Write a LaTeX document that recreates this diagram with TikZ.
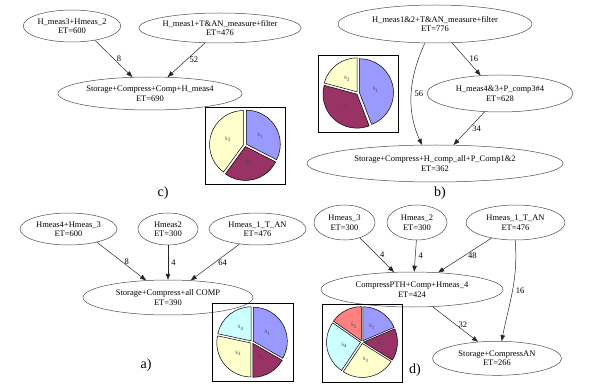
\documentclass[tikz,border=0pt]{standalone}
\usepackage{fontspec}
\setmainfont{Liberation Serif}
\usetikzlibrary{arrows.meta, shapes.geometric}
\definecolor{s_blue}{HTML}{9999FF}
\definecolor{s_maroon}{HTML}{993366}
\definecolor{s_yellow}{HTML}{FFFFCC}
\definecolor{s_cyan}{HTML}{CCFFFF}
\definecolor{s_red}{HTML}{FF8080}
\tikzset{
  ell_n/.style = {ellipse, draw=black!70, line width=0.5pt, inner sep=0pt,
    align=center, font=\fontsize{8.5}{9.5}\selectfont},
  conn/.style = {-{Triangle[length=6pt,width=4.5pt]}, draw=black!85,
    line width=0.5pt},
  wt/.style = {midway, right=3pt, inner sep=0pt, font=\fontsize{8.5}{9.5}\selectfont},
  pie_box/.style = {draw=black, line width=0.8pt},
  sl/.style = {draw=black, line width=0.5pt},
  sl_lab/.style = {inner sep=0pt, text=black!75, font=\fontsize{5}{5}\selectfont},
  panel/.style = {inner sep=0pt, font=\fontsize{14}{14}\selectfont}}
% one exploded slice: centre, pie name, from, to, colour, index
\newcommand{\pieslice}[6]{%
  \begin{scope}[shift={(#1)}, yscale=-1]
    \pgfmathsetmacro\slicemid{(#3+#4)/2}
    \draw[sl, fill=#5, shift={(\slicemid:1.5)}] (0,0) -- (#3:34)
      arc[start angle=#3, end angle=#4, radius=34] -- cycle;
    \node[sl_lab] (#2#6) at (\slicemid:18) {S\textsubscript{#6}};
  \end{scope}}

\begin{document}
\begin{tikzpicture}[x=1pt, y=-1pt]
\useasboundingbox (0,0) rectangle (594,390);

% c)
\node[ell_n, minimum width=88pt, minimum height=32pt] (c_a) at (72,26) {H\_meas3+Hmeas\_2\\ET=600};
\node[ell_n, minimum width=160pt, minimum height=30pt] (c_b) at (220,28) {H\_meas1+T\&AN\_measure+filter\\ET=476};
\node[ell_n, minimum width=184pt, minimum height=33pt] (c_s) at (150,93.5) {Storage+Compress+Comp+H\_meas4\\ET=690};
\draw[conn] (c_a.-32) -- (c_s.137) node[wt] (c_w1) {8};
\draw[conn] (c_b.-135) -- (c_s.43) node[wt] (c_w2) {52};
\draw[pie_box] (205,107) rectangle (285,184);
\pieslice{245,145}{c}{90}{-27}{s_blue}{1}
\pieslice{245,145}{c}{-27}{-126}{s_maroon}{2}
\pieslice{245,145}{c}{-126}{-270}{s_yellow}{3}
\node[panel] (c_lab) at (163,193) {c)};

% b)
\node[ell_n, minimum width=194pt, minimum height=38pt] (b_t) at (435,24) {H\_meas1\&2+T\&AN\_measure+filter\\ET=776};
\node[ell_n, minimum width=146pt, minimum height=37pt] (b_m) at (500,93.5) {H\_meas4\&3+P\_comp3\#4\\ET=628};
\node[ell_n, minimum width=256pt, minimum height=37pt] (b_s) at (435,163.5) {Storage+Compress+H\_comp\_all+P\_Comp1\&2\\ET=362};
\draw[conn] (b_t.-48) -- (b_m.137) node[wt] (b_w1) {16};
\draw[conn] (b_t.-118) .. controls +(-16,35) and +(-16,-35) .. (b_s.125) node[wt] (b_w2) {56};
\draw[conn] (b_m.-130) -- (b_s.45) node[wt] (b_w3) {34};
\draw[pie_box] (318,55) rectangle (398,132);
\pieslice{358,93}{b}{90}{-69}{s_blue}{1}
\pieslice{358,93}{b}{-69}{-195}{s_maroon}{2}
\pieslice{358,93}{b}{-195}{-270}{s_yellow}{3}
\node[panel] (b_lab) at (440,193) {b)};

% a)
\node[ell_n, minimum width=97pt, minimum height=32pt] (a_1) at (68.5,229) {Hmeas4+Hmeas\_3\\ET=600};
\node[ell_n, minimum width=60pt, minimum height=32pt] (a_2) at (168,229) {Hmeas2\\ET=300};
\node[ell_n, minimum width=97pt, minimum height=32pt] (a_3) at (257.5,229) {Hmeas\_1\_T\_AN\\ET=476};
\node[ell_n, minimum width=170pt, minimum height=35pt] (a_s) at (168,297.5) {Storage+Compress+all COMP\\ET=390};
\draw[conn] (a_1.-25) -- (a_s.142) node[wt] (a_w1) {8};
\draw[conn] (a_2.-90) -- (a_s.90) node[wt] (a_w2) {4};
\draw[conn] (a_3.-140) -- (a_s.37) node[wt] (a_w3) {64};
\draw[pie_box] (212,303) rectangle (293,381);
\pieslice{252,342}{a}{90}{-30}{s_blue}{1}
\pieslice{252,342}{a}{-30}{-90}{s_maroon}{2}
\pieslice{252,342}{a}{-90}{-192}{s_yellow}{3}
\pieslice{252,342}{a}{-192}{-270}{s_cyan}{4}
\node[panel] (a_lab) at (146,365) {a)};

% d)
\node[ell_n, minimum width=61pt, minimum height=35pt] (d_1) at (344.5,222.5) {Hmeas\_3\\ET=300};
\node[ell_n, minimum width=60pt, minimum height=35pt] (d_2) at (417,222.5) {Hmeas\_2\\ET=300};
\node[ell_n, minimum width=99pt, minimum height=35pt] (d_3) at (515.5,222.5) {Hmeas\_1\_T\_AN\\ET=476};
\node[ell_n, minimum width=182pt, minimum height=35pt] (d_m) at (412,289.5) {CompressPTH+Comp+Hmeas\_4\\ET=424};
\node[ell_n, minimum width=129pt, minimum height=34pt] (d_s) at (497,358.3) {Storage+CompressAN\\ET=266};
\draw[conn] (d_1.-45) -- (d_m.136) node[wt] (d_w1) {4};
\draw[conn] (d_2.-92) -- (d_m.83) node[wt] (d_w2) {4};
\draw[conn] (d_3.-147) -- (d_m.33) node[wt] (d_w3) {48};
\draw[conn] (d_3.-91) .. controls +(3,40) and +(8,-40) .. (d_s.75) node[wt] (d_w4) {16};
\draw[conn] (d_m.-40) -- (d_s.139) node[wt] (d_w5) {32};
\draw[pie_box] (322,304) rectangle (402,382);
\pieslice{362,342}{d}{90}{23}{s_blue}{1}
\pieslice{362,342}{d}{23}{-32}{s_maroon}{2}
\pieslice{362,342}{d}{-32}{-124}{s_yellow}{3}
\pieslice{362,342}{d}{-124}{-215}{s_cyan}{4}
\pieslice{362,342}{d}{-215}{-270}{s_red}{5}
\node[panel] (d_lab) at (415,370) {d)};
\end{tikzpicture}
\end{document}
